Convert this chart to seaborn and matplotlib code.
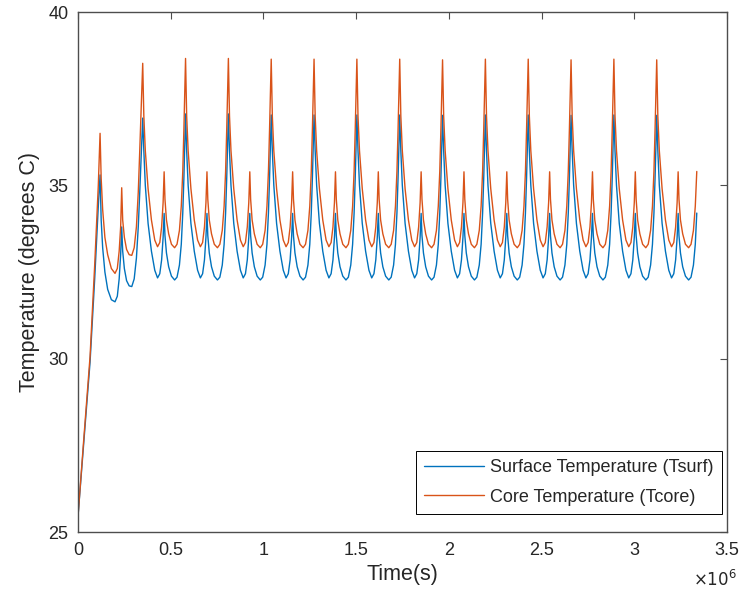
import numpy as np
import pandas as pd
import matplotlib
matplotlib.use("Agg")
import matplotlib.pyplot as plt
import seaborn as sns
from matplotlib.ticker import FuncFormatter, MultipleLocator

# --- values (time in units of 1e6 s, temperature in deg C) ---

# warm-up part, before the regular cycles start
start_t = [0.0, 0.03, 0.065, 0.09, 0.1095, 0.119, 0.125, 0.133, 0.145, 0.16, 0.18,
           0.1996, 0.212, 0.222, 0.230, 0.2357, 0.241, 0.250, 0.262, 0.276, 0.290,
           0.303, 0.315, 0.325, 0.333, 0.341]
start_core = [25.45, 27.6, 30.06, 32.7, 35.0, 36.5, 35.2, 34.3, 33.5, 33.0, 32.6,
              32.46, 32.6, 33.1, 33.8, 34.93, 34.0, 33.5, 33.15, 33.0, 32.98,
              33.2, 33.8, 34.8, 36.0, 37.3]
start_surf = [25.45, 27.5, 29.9, 32.3, 34.4, 35.3, 34.0, 33.2, 32.5, 32.0, 31.7,
              31.64, 31.8, 32.3, 33.0, 33.8, 33.1, 32.6, 32.25, 32.1, 32.08,
              32.3, 32.9, 33.8, 34.8, 35.9]

# times of the big peaks and their heights
peak_t = [0.349, 0.580, 0.811, 1.042, 1.273, 1.504, 1.735, 1.966, 2.197, 2.428,
          2.659, 2.890, 3.121]
peak_core = [38.52, 38.66, 38.66, 38.64, 38.64, 38.64, 38.64, 38.62, 38.64, 38.64,
             38.62, 38.64, 38.62]
peak_surf = [36.94, 37.06, 37.06, 37.03, 37.03, 37.03, 37.03, 37.02, 37.03, 37.03,
             37.02, 37.03, 37.02]

# one cycle after a big peak: drop, small peak, trough, rise to next big peak
cycle_dt = [0.006, 0.014, 0.029, 0.047, 0.065, 0.080, 0.092, 0.102, 0.110, 0.1155,
            0.120, 0.128, 0.140, 0.155, 0.172, 0.185, 0.198, 0.208, 0.216, 0.222, 0.227]
cycle_core = [37.0, 36.0, 34.9, 34.0, 33.42, 33.23, 33.35, 33.8, 34.5, 35.39,
              34.6, 34.0, 33.6, 33.3, 33.2, 33.3, 33.7, 34.4, 35.4, 36.6, 37.8]
cycle_surf = [36.0, 35.0, 33.9, 33.1, 32.55, 32.33, 32.45, 32.85, 33.5, 34.19,
              33.55, 33.05, 32.65, 32.38, 32.27, 32.35, 32.7, 33.3, 34.2, 35.2, 36.2]

t_end = 3.34

# put the series together
t_all = list(start_t)
core = list(start_core)
surf = list(start_surf)
for tp, pc, ps in zip(peak_t, peak_core, peak_surf):
    t_all.append(tp)
    core.append(pc)
    surf.append(ps)
    for dt, c, s in zip(cycle_dt, cycle_core, cycle_surf):
        if tp + dt > t_end:
            break
        t_all.append(tp + dt)
        core.append(c)
        surf.append(s)

df = pd.DataFrame({"time": np.array(t_all) * 1e6, "Tsurf": surf, "Tcore": core})

# --- plot ---
sns.set_style("white")
plt.rcParams['font.family'] = ['Liberation Sans', 'DejaVu Sans']
txt = '#262626'

fig = plt.figure(figsize=(7.41, 5.93), dpi=100)
ax = fig.add_axes([78 / 741, 1 - 532 / 593, 649 / 741, 520 / 593])

sns.lineplot(data=df, x="time", y="Tsurf", ax=ax, color='#0072BD', lw=1.0,
             estimator=None, sort=False, label="Surface Temperature (Tsurf)")
sns.lineplot(data=df, x="time", y="Tcore", ax=ax, color='#D95319', lw=1.0,
             estimator=None, sort=False, label="Core Temperature (Tcore)")

ax.set_xlim(0, 3.5e6)
ax.set_ylim(25, 40)
ax.xaxis.set_major_locator(MultipleLocator(0.5e6))
ax.yaxis.set_major_locator(MultipleLocator(5))
ax.xaxis.set_major_formatter(FuncFormatter(lambda v, p: f"{v / 1e6:g}"))

ax.tick_params(direction='in', length=5, width=0.8, top=True, right=True,
               color='#4d4d4d', labelcolor=txt, labelsize=13, pad=7)
for sp in ax.spines.values():
    sp.set_color('#4d4d4d')
    sp.set_linewidth(1.0)

ax.set_xlabel("Time(s)", fontsize=15.5, color=txt, labelpad=4)
ax.set_ylabel("Temperature (degrees C)", fontsize=15.5, color=txt, labelpad=6)

fig.text(737 / 741, 1 - 579 / 593, r"$\times10^{6}$", ha='right', va='center',
         fontsize=12, color=txt)

leg = ax.legend(loc='lower right', bbox_to_anchor=(0.992, 0.035), borderaxespad=0,
                fancybox=False, framealpha=1, edgecolor='black', fontsize=13,
                handlelength=3.3, handletextpad=0.35, borderpad=0.45, labelspacing=0.68)
leg.get_frame().set_linewidth(0.7)

fig.savefig("out.png", dpi=100, facecolor='white')
